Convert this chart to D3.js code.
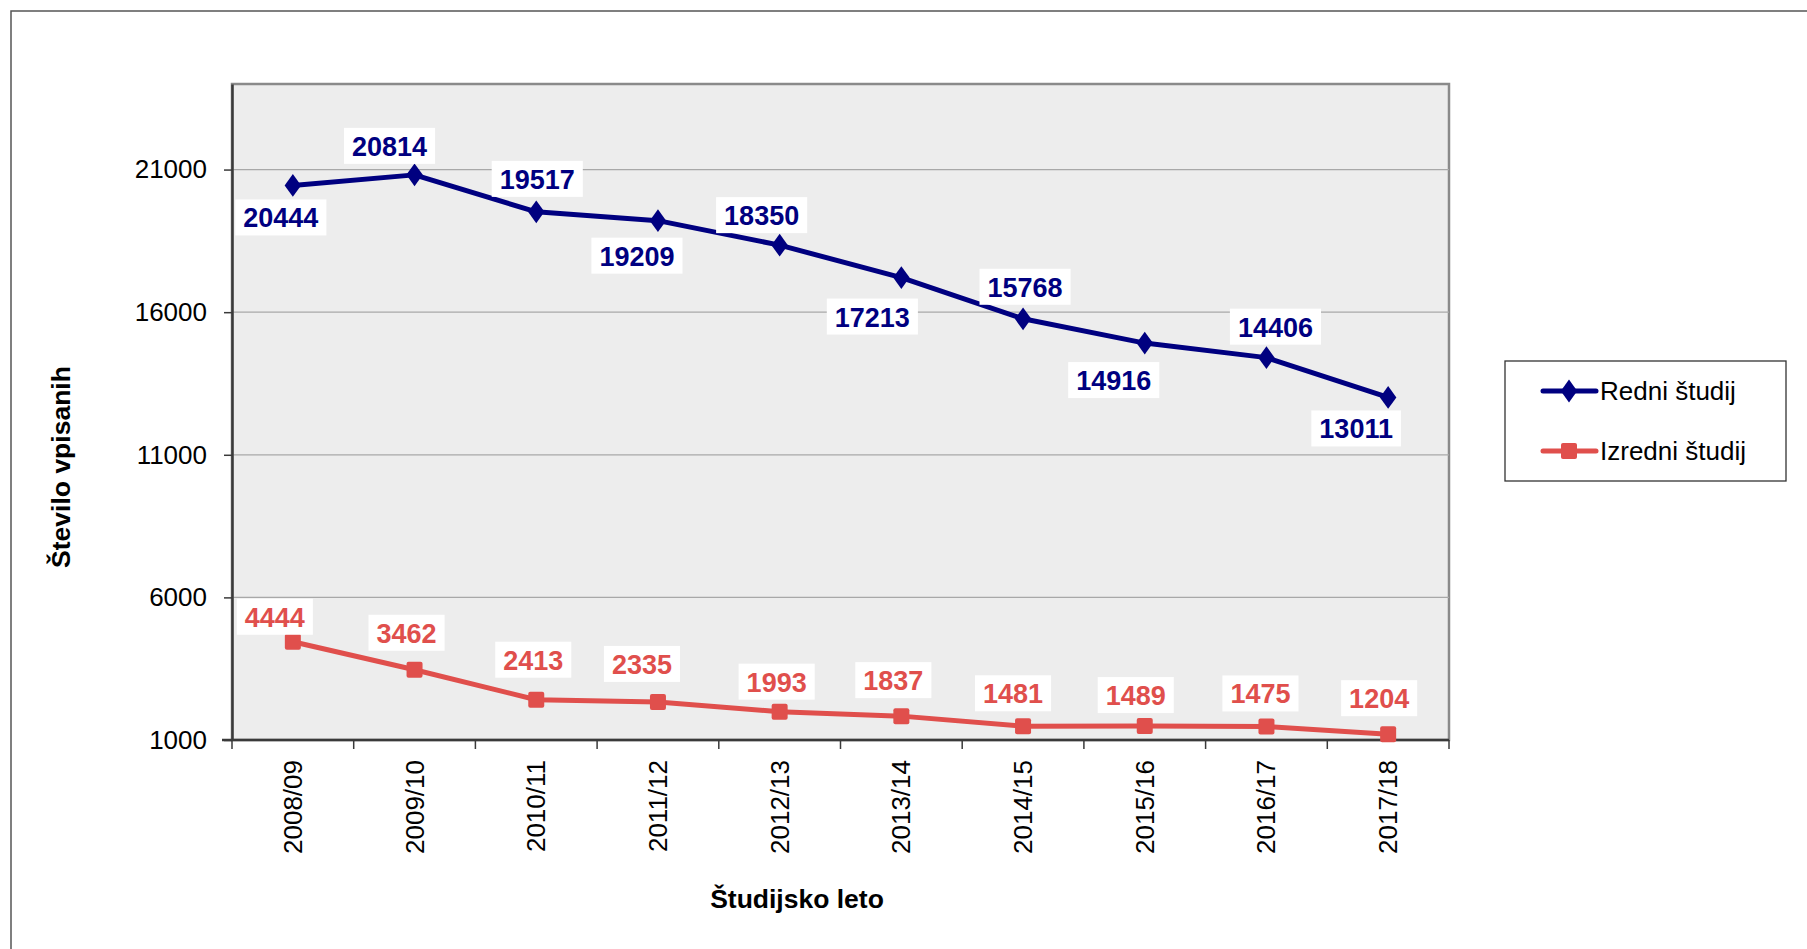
<!DOCTYPE html>
<html>
<head>
<meta charset="utf-8">
<script src="https://cdn.jsdelivr.net/npm/d3@7/dist/d3.min.js"></script>
<style>
  html, body { margin: 0; padding: 0; background: #fff; }
  svg { display: block; font-family: "Liberation Sans", Arial, sans-serif; }
</style>
</head>
<body>
<svg id="chart" width="1807" height="949"></svg>
<script>
// Academic years
const years = ["2008/09", "2009/10", "2010/11", "2011/12", "2012/13",
               "2013/14", "2014/15", "2015/16", "2016/17", "2017/18"];
// Full-time enrolment
const redni = [20444, 20814, 19517, 19209, 18350, 17213, 15768, 14916, 14406, 13011];
// Part-time enrolment
const izredni = [4444, 3462, 2413, 2335, 1993, 1837, 1481, 1489, 1475, 1204];
// Value axis ticks
const yTicks = [1000, 6000, 11000, 16000, 21000];
const seriesNames = ["Redni študij", "Izredni študij"];

// Hand-placed data label offsets (px from the point)
const rdniLabelOffset = [[-12, 32], [-25, -29], [1, -33], [-21, 35], [-18, -30],
                         [-29, 39], [2, -32], [-31, 37], [9, -31], [-32, 31]];
const izrLabelOffset = [[-18, -25], [-8, -37], [-3, -40], [-16, -38], [-3, -30],
                        [-8, -36], [-10, -33], [-9, -31], [-6, -33], [-9, -36]];

const BLUE = "#000080";
const RED = "#E04F4C";

const svg = d3.select("#chart");
const P = { left: 232, right: 1449, top: 84, bottom: 740 };

// outer frame (top and left edges visible)
svg.append("rect")
  .attr("x", 11).attr("y", 11)
  .attr("width", 1807).attr("height", 949)
  .attr("fill", "none").attr("stroke", "#555").attr("stroke-width", 1.5);

const x = d3.scaleBand().domain(years).range([P.left, P.right]).padding(0);
const y = d3.scaleLinear().domain([1000, 24000]).range([P.bottom, P.top]);
const cx = d => x(d) + x.bandwidth() / 2;

// plot background
svg.append("rect")
  .attr("x", P.left).attr("y", P.top)
  .attr("width", P.right - P.left).attr("height", P.bottom - P.top)
  .attr("fill", "#EDEDED").attr("stroke", "#8a8a8a").attr("stroke-width", 2.5);

// gridlines
svg.append("g").selectAll("line").data(yTicks.slice(1)).join("line")
  .attr("x1", P.left).attr("x2", P.right)
  .attr("y1", d => y(d)).attr("y2", d => y(d))
  .attr("stroke", "#A8A8A8").attr("stroke-width", 1.3);

// y axis
const yAxis = svg.append("g")
  .attr("transform", `translate(${P.left},0)`)
  .call(d3.axisLeft(y).tickValues(yTicks).tickSize(8).tickSizeOuter(0)
        .tickPadding(17).tickFormat(d3.format("d")));
yAxis.select(".domain").attr("stroke", "#3a3a3a").attr("stroke-width", 2.5);
yAxis.selectAll(".tick line").attr("stroke", "#3a3a3a").attr("stroke-width", 1.5);
yAxis.selectAll(".tick text").attr("font-size", 26).attr("fill", "#000")
  .attr("font-family", "Liberation Sans, Arial, sans-serif");

// x axis: ticks between categories
const xAxisG = svg.append("g").attr("transform", `translate(0,${P.bottom})`);
xAxisG.append("line")
  .attr("x1", P.left - 10).attr("x2", P.right)
  .attr("stroke", "#3a3a3a").attr("stroke-width", 2.5);
const bounds = years.map(d => x(d)).concat([P.right]);
xAxisG.selectAll("line.tk").data(bounds).join("line").attr("class", "tk")
  .attr("x1", d => d).attr("x2", d => d).attr("y1", 0).attr("y2", 9)
  .attr("stroke", "#3a3a3a").attr("stroke-width", 1.5);
xAxisG.selectAll("text").data(years).join("text")
  .attr("transform", d => `translate(${cx(d) + 9},20) rotate(-90)`)
  .attr("text-anchor", "end")
  .attr("font-size", 26).attr("fill", "#000")
  .text(d => d);

// axis titles
svg.append("text")
  .attr("transform", `translate(70,467) rotate(-90)`)
  .attr("text-anchor", "middle").attr("font-weight", "bold").attr("font-size", 26.5)
  .text("Število vpisanih");
svg.append("text")
  .attr("x", 797).attr("y", 908)
  .attr("text-anchor", "middle").attr("font-weight", "bold").attr("font-size", 26.5)
  .text("Študijsko leto");

// marker shapes
const diamond = d3.symbol().type(d3.symbolDiamond).size(150);
function drawMarker(g, kind, color, px, py) {
  if (kind === "diamond") {
    g.append("path").attr("d", diamond())
      .attr("transform", `translate(${px},${py}) scale(1.25,1)`)
      .attr("fill", color);
  } else {
    g.append("rect").attr("x", px - 8).attr("y", py - 8)
      .attr("width", 16).attr("height", 16).attr("rx", 2)
      .attr("fill", color);
  }
}

const line = d3.line().x((d, i) => cx(years[i])).y(d => y(d));

const series = [
  { values: redni, color: BLUE, marker: "diamond", offs: rdniLabelOffset },
  { values: izredni, color: RED, marker: "square", offs: izrLabelOffset }
];

series.forEach(s => {
  const g = svg.append("g");
  g.append("path").datum(s.values).attr("d", line)
    .attr("fill", "none").attr("stroke", s.color)
    .attr("stroke-width", 5).attr("stroke-linejoin", "round");
  s.values.forEach((v, i) => drawMarker(g, s.marker, s.color, cx(years[i]), y(v)));
});

// data labels with white boxes
series.forEach(s => {
  const g = svg.append("g");
  s.values.forEach((v, i) => {
    const lx = cx(years[i]) + s.offs[i][0];
    const ly = y(v) + s.offs[i][1];
    const lg = g.append("g");
    const bg = lg.append("rect").attr("fill", "#fff");
    const t = lg.append("text")
      .attr("x", lx).attr("y", ly + 10)
      .attr("text-anchor", "middle")
      .attr("font-weight", "bold").attr("font-size", 27)
      .attr("fill", s.color)
      .text(v);
    const w = t.node().getComputedTextLength();
    bg.attr("x", lx - w / 2 - 8).attr("y", ly - 18)
      .attr("width", w + 16).attr("height", 36);
  });
});

// legend
const L = svg.append("g");
L.append("rect").attr("x", 1505).attr("y", 361).attr("width", 281).attr("height", 120)
  .attr("fill", "#fff").attr("stroke", "#333").attr("stroke-width", 1.3);
series.forEach((s, i) => {
  const ly = 391 + i * 60;
  L.append("line").attr("x1", 1543).attr("x2", 1596).attr("y1", ly).attr("y2", ly)
    .attr("stroke", s.color).attr("stroke-width", 5).attr("stroke-linecap", "round");
  drawMarker(L, s.marker, s.color, 1569, ly);
  L.append("text").attr("x", 1600).attr("y", ly + 9)
    .attr("font-size", 26).attr("fill", "#000").text(seriesNames[i]);
});
</script>
</body>
</html>
